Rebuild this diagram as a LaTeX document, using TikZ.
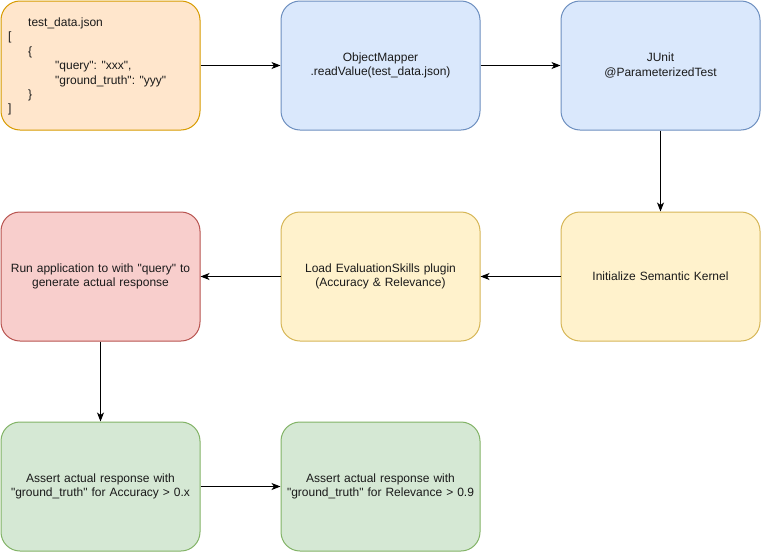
\documentclass[tikz,border=0pt]{standalone}
\usepackage{fontspec}
\setmainfont{Liberation Sans}[Ligatures=TeXOff]
\usepackage{tikz}
\usetikzlibrary{arrows.meta}
\usetikzlibrary{positioning}

\definecolor{orangefill}{HTML}{FFE6CC}
\definecolor{orangeline}{HTML}{D79B00}
\definecolor{bluefill}{HTML}{DAE8FC}
\definecolor{blueline}{HTML}{6C8EBF}
\definecolor{redfill}{HTML}{F8CECC}
\definecolor{redline}{HTML}{B85450}
\definecolor{yellowfill}{HTML}{FFF2CC}
\definecolor{yellowline}{HTML}{D6B656}
\definecolor{greenfill}{HTML}{D5E8D4}
\definecolor{greenline}{HTML}{82B366}
\definecolor{textgray}{HTML}{1A1A1A}

\begin{document}
\begin{tikzpicture}[x=1pt,y=-1pt,
  stepbox/.style={draw,rounded corners=19pt,line width=1pt,minimum width=199pt,minimum height=129pt,
    inner sep=4.5pt,align=center,text width=190pt,font=\fontsize{12}{14.5}\selectfont,text=textgray},
  flow/.style={line width=1pt,-{Stealth[length=9pt,width=7pt,inset=2.5pt]}}]

\useasboundingbox (0,0) rectangle (761,552);

\node[stepbox,fill=orangefill,draw=orangeline] (json) at (100.5,65.5) {};
\node[anchor=west,align=left,inner sep=0pt,font=\fontsize{12}{14.4}\selectfont,text=textgray] (jsontext) at (8,66.5)
  {\hspace*{20pt}test\_data.json\\
   {[}\\
   \hspace*{20pt}\{\\
   \hspace*{47pt}"query": "xxx",\\
   \hspace*{47pt}"ground\_truth": "yyy"\\
   \hspace*{20pt}\}\\
   {]}};
\node[stepbox,fill=bluefill,draw=blueline] (mapper) at (380.5,65.5) {ObjectMapper\\.readValue(test\_data.json)};
\node[stepbox,fill=bluefill,draw=blueline] (junit) at (660.5,65.5) {JUnit\\@ParameterizedTest};

\node[stepbox,fill=redfill,draw=redline] (run) at (100.5,276.5) {Run application to with "query" to\\generate actual response};
\node[stepbox,fill=yellowfill,draw=yellowline] (plugin) at (380.5,276.5) {Load EvaluationSkills plugin\\(Accuracy \& Relevance)};
\node[stepbox,fill=yellowfill,draw=yellowline] (kernel) at (660.5,276.5) {Initialize Semantic Kernel};

\node[stepbox,fill=greenfill,draw=greenline] (accuracy) at (100.5,486.5) {Assert actual response with\\"ground\_truth" for Accuracy > 0.x};
\node[stepbox,fill=greenfill,draw=greenline] (relevance) at (380.5,486.5) {Assert actual response with\\"ground\_truth" for Relevance > 0.9};

\draw[flow] (json) -- (mapper);
\draw[flow] (mapper) -- (junit);
\draw[flow] (junit) -- (kernel);
\draw[flow] (kernel) -- (plugin);
\draw[flow] (plugin) -- (run);
\draw[flow] (run) -- (accuracy);
\draw[flow] (accuracy) -- (relevance);

\end{tikzpicture}
\end{document}
